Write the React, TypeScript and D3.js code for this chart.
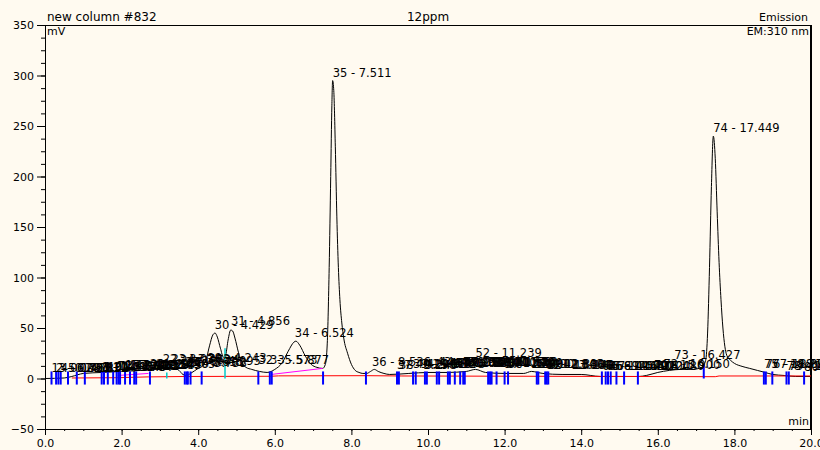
import React, { useRef, useEffect } from 'react';
import * as d3 from 'd3';

// trace: retention time (min) and signal (mV)
const traceTime = [
  0.0, 0.5, 0.7, 1.0, 1.5, 2.0, 2.5, 3.0, 3.3, 3.5, 3.6, 3.7, 3.8, 4.0, 4.1, 4.2, 4.3, 4.38, 4.44, 4.5,
  4.58, 4.66, 4.72, 4.78, 4.85, 4.9, 4.96, 5.05, 5.15, 5.25, 5.4, 5.6, 5.8, 6.0, 6.2, 6.35, 6.5, 6.55, 6.65, 6.8,
  6.95, 7.1, 7.25, 7.32, 7.37, 7.42, 7.46, 7.49, 7.51, 7.54, 7.58, 7.62, 7.66, 7.7, 7.75, 7.8, 7.9, 8.0, 8.1, 8.2,
  8.3, 8.4, 8.5, 8.6, 8.7, 8.85, 9.0, 9.5, 10.0, 10.5, 11.0, 11.24, 11.5, 12.0, 12.5, 12.7, 13.0, 13.5, 14.0, 14.5,
  15.0, 15.5, 15.7, 16.0, 16.3, 16.6, 16.9, 17.15, 17.25, 17.3, 17.35, 17.4, 17.45, 17.5, 17.55, 17.6, 17.65, 17.7, 17.75, 17.8,
  17.9, 18.0, 18.2, 18.4, 18.6, 18.8, 19.0, 19.3, 19.6, 20.0
];
const traceMv = [
  0, 0.5, 2, 5, 6, 7, 8, 10, 11, 8, 4, 3, 5, 10, 12, 18, 33, 43, 45, 41,
  30, 21, 24, 38, 48, 47, 40, 26, 15, 11, 9, 7, 6, 9, 16, 27, 36, 37, 33, 22,
  14, 11, 10, 14, 35, 110, 200, 270, 295, 285, 230, 160, 110, 78, 55, 40, 25, 14, 8, 6,
  5, 5, 7, 9, 7, 5, 4, 5, 6, 6, 7, 9, 6, 5, 5, 7, 5, 4, 4, 2,
  2, 2, 3, 6, 8, 9, 9, 11, 18, 45, 110, 190, 240, 218, 165, 115, 78, 50, 32, 23,
  18, 15, 12, 10, 8, 6, 4, 3, 2, 2
];

// integration baseline (red) and the drop segments (magenta)
const baseTime = [0.7, 1.9, 2.3, 2.7, 3.7, 5.9, 6.1, 8.4, 9.3, 17.5, 17.6, 20.0];
const baseMv = [0.5, 0.8, 1.2, 1.6, 2.0, 2.2, 2.6, 2.8, 2.5, 1.8, 2.5, 2.5];
const dropTime = [[1.9, 2.7], [5.9, 7.25]];
const dropMv = [[3, 5], [4, 10]];

// peak start/end event marks
const markTimes = [
  0.17, 0.29, 0.35, 0.41, 0.6, 0.83, 1.04, 1.48, 1.54, 1.64, 1.78, 1.87, 1.92, 1.96, 2.09, 2.22, 2.33, 2.38, 2.74,
  3.65, 3.7, 3.73, 3.8, 4.09, 5.57, 5.87, 5.92, 7.26, 8.38, 9.19, 9.24, 9.61, 9.68, 9.92, 9.97, 10.23, 10.29,
  10.52, 10.57, 10.7, 10.84, 10.92, 10.96, 11.57, 11.62, 11.66, 11.79, 12.0, 12.09, 12.84, 12.88, 13.06, 13.1,
  13.14, 14.54, 14.64, 14.7, 14.77, 14.92, 15.12, 15.48, 18.77, 18.82, 18.99, 19.36, 19.42, 19.82
];
const cyanTimes = [3.18, 4.7];
const cyanTop = [6, 30];
const tallMarkTimes = [17.2];
const tallMarkTop = [14];

// peak labels: number, retention time, label height (mV)
const peakNums = [
  1, 2, 3, 4, 5, 6, 7, 8, 9, 10, 11, 12, 13, 14, 15, 16, 17, 18, 19, 20,
  21, 22, 23, 24, 25, 26, 27, 28, 29, 30, 31, 32, 33, 34, 35, 36, 37, 38, 39, 40,
  41, 42, 43, 44, 45, 46, 47, 48, 49, 50, 51, 52, 53, 54, 55, 56, 57, 58, 59, 60,
  61, 62, 63, 64, 65, 66, 67, 68, 69, 70, 71, 72, 73, 74, 75, 76, 77, 78, 79, 80
];
const peakTimes = [
  0.172, 0.287, 0.353, 0.41, 0.601, 0.832, 1.044, 1.48, 1.543, 1.64, 1.784, 1.87, 1.92, 1.962, 2.093, 2.22, 2.33, 2.38, 2.545, 2.74,
  2.905, 3.076, 3.302, 3.524, 3.653, 3.702, 3.733, 4.095, 4.243, 4.429, 4.856, 5.573, 5.877, 6.524, 7.511, 8.536, 9.19, 9.24, 9.61, 9.68,
  9.92, 9.97, 10.23, 10.29, 10.52, 10.57, 10.7, 10.84, 10.92, 10.96, 11.1, 11.239, 11.57, 11.62, 11.66, 11.79, 12.0, 12.09, 12.84, 12.88,
  13.06, 13.1, 13.14, 14.54, 14.64, 14.7, 14.77, 14.92, 15.12, 15.48, 15.9, 16.15, 16.427, 17.449, 18.77, 18.82, 18.99, 19.36, 19.42, 19.82
];
const peakMv = [
  2, 2, 2, 2, 2, 2, 2, 3, 3, 3, 3, 4, 4, 4, 5, 5, 5, 5, 5, 6,
  6, 11, 11, 10, 8, 8, 7, 9, 12, 45, 49, 10, 10, 37, 295, 8, 5, 5, 6, 6,
  6, 6, 8, 8, 7, 7, 7, 8, 8, 8, 8, 17, 8, 8, 8, 7, 6, 6, 6, 6,
  5, 5, 5, 4, 4, 4, 4, 4, 4, 4, 5, 6, 15, 240, 6, 6, 6, 4, 4, 3
];

const yMajor = [-50, 0, 50, 100, 150, 200, 250, 300, 350];
const xMajor = [0, 2, 4, 6, 8, 10, 12, 14, 16, 18, 20];

const FONT = 'DejaVu Sans, Verdana, sans-serif';

const Chromatogram = () => {
  const svgRef = useRef<SVGSVGElement>(null);

  useEffect(() => {
    document.body.style.margin = '0';
    const svg = d3.select(svgRef.current);
    svg.selectAll('*').remove();

    const width = 820;
    const height = 450;
    const left = 45, right = 811, top = 25, bottom = 429;

    svg.attr('width', width).attr('height', height);
    svg.append('rect').attr('width', width).attr('height', height).attr('fill', '#fffaf0');

    const x = d3.scaleLinear().domain([0, 20]).range([left, right]);
    const y = d3.scaleLinear().domain([-50, 350]).range([bottom, top]);

    // minor ticks first
    svg.append('g')
      .attr('transform', `translate(${left},0)`)
      .call(d3.axisLeft(y).tickValues(d3.range(-50, 351, 12.5)).tickSize(4).tickFormat(() => '').tickSizeOuter(0))
      .call(g => g.select('.domain').remove());
    svg.append('g')
      .attr('transform', `translate(0,${bottom})`)
      .call(d3.axisBottom(x).tickValues(d3.range(0, 20.01, 0.5)).tickSize(2).tickFormat(() => '').tickSizeOuter(0))
      .call(g => g.select('.domain').remove());

    // Y axis
    svg.append('g')
      .attr('transform', `translate(${left},0)`)
      .call(d3.axisLeft(y).tickValues(yMajor).tickSize(8).tickPadding(3).tickSizeOuter(0).tickFormat(d3.format('d')))
      .call(g => g.selectAll('text').attr('font-family', FONT).attr('font-size', 11).attr('fill', '#000'));

    // X axis
    svg.append('g')
      .attr('transform', `translate(0,${bottom})`)
      .call(d3.axisBottom(x).tickValues(xMajor).tickSize(6).tickPadding(4).tickSizeOuter(0).tickFormat(d3.format('.1f')))
      .call(g => g.selectAll('text').attr('font-family', FONT).attr('font-size', 11).attr('fill', '#000'));

    // frame
    svg.append('line').attr('x1', left).attr('x2', right).attr('y1', top + 0.5).attr('y2', top + 0.5).attr('stroke', '#000');
    svg.append('line').attr('x1', right).attr('x2', right).attr('y1', top).attr('y2', bottom).attr('stroke', '#000').attr('stroke-width', 2);

    // header texts
    const txt = (s: string, tx: number, ty: number, anchor = 'start', size = 12) =>
      svg.append('text').attr('x', tx).attr('y', ty).attr('text-anchor', anchor)
        .attr('font-family', FONT).attr('font-size', size).attr('fill', '#000').text(s);
    txt('new column #832', 47, 21);
    txt('12ppm', 428, 21, 'middle');
    txt('Emission', 808, 21, 'end', 11);
    txt('mV', 47, 35, 'start', 11);
    txt('EM:310 nm', 809, 35, 'end', 11);
    txt('min', 809, 425, 'end', 11);

    const plot = svg.append('g');

    // trace
    const tracePts = traceTime.map((t, i) => [t, traceMv[i]] as [number, number]);
    plot.append('path')
      .datum(tracePts)
      .attr('fill', 'none')
      .attr('stroke', '#000')
      .attr('stroke-width', 1)
      .attr('d', d3.line<[number, number]>().x(d => x(d[0])).y(d => y(d[1])).curve(d3.curveMonotoneX));

    // baseline
    plot.append('path')
      .datum(baseTime.map((t, i) => [t, baseMv[i]] as [number, number]))
      .attr('fill', 'none')
      .attr('stroke', '#ff0000')
      .attr('d', d3.line<[number, number]>().x(d => x(d[0])).y(d => y(d[1])));

    dropTime.forEach((seg, i) => {
      plot.append('line')
        .attr('x1', x(seg[0])).attr('x2', x(seg[1]))
        .attr('y1', y(dropMv[i][0])).attr('y2', y(dropMv[i][1]))
        .attr('stroke', '#ff00ff');
    });

    // event marks
    plot.selectAll('.mark')
      .data(markTimes)
      .enter().append('line')
      .attr('x1', d => x(d)).attr('x2', d => x(d))
      .attr('y1', y(-6)).attr('y2', y(7))
      .attr('stroke', '#0000ff').attr('stroke-width', 2);
    plot.selectAll('.tall')
      .data(tallMarkTimes)
      .enter().append('line')
      .attr('x1', d => x(d)).attr('x2', d => x(d))
      .attr('y1', y(0)).attr('y2', (d, i) => y(tallMarkTop[i]))
      .attr('stroke', '#0000ff').attr('stroke-width', 2);
    plot.selectAll('.cyan')
      .data(cyanTimes)
      .enter().append('line')
      .attr('x1', d => x(d)).attr('x2', d => x(d))
      .attr('y1', y(0)).attr('y2', (d, i) => y(cyanTop[i]))
      .attr('stroke', '#00cccc').attr('stroke-width', 1.5);

    // peak labels
    plot.selectAll('.lbl')
      .data(peakNums)
      .enter().append('text')
      .attr('x', (d, i) => x(peakTimes[i]))
      .attr('y', (d, i) => y(peakMv[i]) - 4)
      .attr('font-family', FONT)
      .attr('font-size', 11.5)
      .attr('fill', '#000')
      .text((d, i) => `${d} - ${peakTimes[i].toFixed(3)}`);
  }, []);

  return <svg ref={svgRef} style={{ display: 'block' }}></svg>;
};

export default function App() {
  return <Chromatogram />;
}
